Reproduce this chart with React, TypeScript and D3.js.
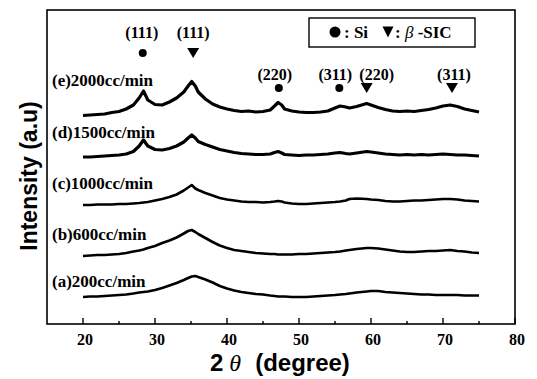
import React from "react";
import * as d3 from "d3";

const THETA = [20, 21, 22, 23, 24, 25, 26, 27, 27.8, 28.4, 29, 30, 31, 32, 33, 34, 34.6, 35.1, 35.6, 36, 37, 38, 39, 40, 41, 42, 43, 44, 45, 46, 46.6, 47.1, 47.6, 48, 49, 50, 51, 52, 53, 54, 55, 55.7, 56.5, 57, 58, 59.4, 60, 61, 62, 63, 64, 65, 66, 67, 68, 69, 70, 71, 72, 73, 74, 75];

const SERIES_A = [27, 27.5, 27.5, 28, 28.5, 29, 29.5, 30.5, 31.5, 32, 32.5, 34, 36, 38.5, 41, 44, 46, 47.5, 48, 47, 44.5, 41.5, 38, 35.5, 33.5, 32, 31, 30, 29.5, 28.5, 28, 27.5, 27.5, 27.5, 27, 27, 27, 27.5, 28, 28.5, 29, 29.5, 30, 30.5, 31.5, 32.5, 33, 33, 32, 31.5, 31, 30.5, 30, 29.5, 29.5, 29, 29, 29, 29, 28.5, 28.5, 28.5];
const SERIES_B = [68, 68.5, 69, 69, 69.5, 70, 71, 72.5, 73.5, 74.5, 76, 78, 81, 83.5, 86.5, 90.5, 93, 94, 92, 90, 86, 82, 78.5, 76, 74, 73, 72, 71, 70.5, 70, 70, 69.5, 69.5, 69.5, 69.5, 70, 70, 70.5, 71, 71.5, 72, 72.5, 73.5, 74, 75, 76, 76, 75.5, 74.5, 73.5, 72.5, 72, 72, 72.5, 73, 73, 73.5, 74, 73, 72.5, 71.5, 71];
const SERIES_C = [119, 119, 119.5, 119.5, 119.5, 120, 120, 120.5, 121, 121.5, 122, 123.5, 125, 127, 129.5, 133.5, 136.5, 139, 135.5, 134, 131, 128.5, 126, 124.5, 123.5, 122.5, 122, 122, 121.5, 122, 122.5, 123, 122.5, 121.5, 120.5, 120, 120, 120.5, 121, 121.5, 122, 122.5, 123.5, 125, 125.5, 125, 124.5, 124, 123, 122.5, 122.5, 123, 123.5, 123.5, 124, 124.5, 125, 125, 124.5, 123.5, 123, 122.5];
const SERIES_D = [167, 167, 167.5, 168, 168.5, 169, 170, 172.5, 178, 184, 178, 174.5, 174, 175.5, 178, 182, 186, 189, 186, 182.5, 179.5, 177, 174.5, 173, 171.5, 170.5, 170, 169.5, 169.5, 170, 171.5, 172.5, 171, 169.5, 169, 168.5, 169, 169, 169.5, 170, 171, 171.5, 170.5, 170, 171, 172.5, 172, 171, 170, 169.5, 169, 169.5, 169, 169.5, 169, 169.5, 170, 169.5, 169, 169, 168.5, 168];
const SERIES_E = [208.5, 209, 209.5, 210, 211.5, 212.5, 215, 219, 226, 233, 224, 219.5, 219, 222, 226, 232, 238, 242.5, 238, 232, 225, 220, 217, 215, 213.5, 212.5, 213, 212, 212.5, 214, 218, 221.5, 219, 215, 213, 212, 211.5, 211.5, 212, 213, 216, 218, 217, 216, 217.5, 220.5, 219, 216.5, 214.5, 213, 212.5, 213, 212.5, 213.5, 214.5, 216, 218, 219, 217.5, 215, 213.5, 212];

const SERIES = [SERIES_A, SERIES_B, SERIES_C, SERIES_D, SERIES_E];
const SERIES_LABELS = ["(a)200cc/min", "(b)600cc/min", "(c)1000cc/min", "(d)1500cc/min", "(e)2000cc/min"];

const X_TICKS = [20, 30, 40, 50, 60, 70, 80];
const X_MINOR = [25, 35, 45, 55, 65, 75];

const PEAK_THETA = [28.3, 35.3, 47.2, 55.6, 59.4, 71.25];
const PEAK_LABELS = ["(111)", "(111)", "(220)", "(311)", "(220)", "(311)"];
const PEAK_PHASE = ["Si", "SiC", "Si", "Si", "SiC", "SiC"];

const W = 537;
const H = 379;
const M = { left: 47, top: 10, right: 515, bottom: 324 };

const SANS = "'Liberation Sans', Arial, sans-serif";
const SERIF = "'Liberation Serif', 'Times New Roman', serif";

function Tri({ cx, cy, w, h }: { cx: number; cy: number; w: number; h: number }) {
  return <path d={`M${cx - w / 2},${cy - h / 2}L${cx + w / 2},${cy - h / 2}L${cx},${cy + h / 2}Z`} fill="#000" />;
}

export default function App() {
  const x = d3.scaleLinear().domain([15, 80]).range([M.left, M.right]);
  const y = d3.scaleLinear().domain([0, 314]).range([M.bottom, M.top]);
  const line = d3
    .line<number>()
    .x((_, i) => x(THETA[i]))
    .y((v) => y(v))
    .curve(d3.curveLinear);

  const labelBaselines = [287, 240, 189, 138, 86];
  const peakLabelDx = [-1, 0, -4, -4, 10, 2];

  return (
    <svg width={W} height={H} style={{ position: "absolute", left: 0, top: 0, background: "#fff" }}>
      <rect x={0} y={0} width={W} height={H} fill="#fff" />
      {/* frame */}
      <rect x={M.left} y={M.top} width={M.right - M.left} height={M.bottom - M.top} fill="none" stroke="#000" strokeWidth={1.6} />
      {/* ticks */}
      {X_TICKS.map((t) => (
        <line key={"t" + t} x1={x(t)} x2={x(t)} y1={M.bottom} y2={M.bottom - 6} stroke="#000" strokeWidth={1.4} />
      ))}
      {X_MINOR.map((t) => (
        <line key={"m" + t} x1={x(t)} x2={x(t)} y1={M.bottom} y2={M.bottom - 3} stroke="#000" strokeWidth={1.4} />
      ))}
      {X_TICKS.map((t) => (
        <text key={"l" + t} x={x(t) + 2} y={345} textAnchor="middle" fontFamily={SERIF} fontWeight="bold" fontSize={16}>
          {t}
        </text>
      ))}
      {/* curves */}
      {SERIES.map((s, i) => (
        <path key={"s" + i} d={line(s) || ""} fill="none" stroke="#000" strokeWidth={i >= 3 ? 3.2 : 2.6} strokeLinejoin="round" />
      ))}
      {SERIES_LABELS.map((l, i) => (
        <text key={"sl" + i} x={52} y={labelBaselines[i]} fontFamily={SERIF} fontWeight="bold" fontSize={17}>
          {l}
        </text>
      ))}
      {/* peak markers */}
      {PEAK_THETA.map((t, i) => {
        const top = i < 2;
        const my = top ? 53 : 88;
        const ly = top ? 38 : 80;
        return (
          <g key={"p" + i}>
            <text x={x(t) + peakLabelDx[i]} y={ly} textAnchor="middle" fontFamily={SERIF} fontWeight="bold" fontSize={16}>
              {PEAK_LABELS[i]}
            </text>
            {PEAK_PHASE[i] === "Si" ? (
              <circle cx={x(t)} cy={my} r={4} fill="#000" />
            ) : (
              <Tri cx={x(t)} cy={my} w={12} h={10} />
            )}
          </g>
        );
      })}
      {/* legend */}
      <rect x={309} y={18} width={166} height={29} fill="#fff" stroke="#000" strokeWidth={1.4} />
      <circle cx={335} cy={32} r={5.5} fill="#000" />
      <text x={344} y={38} fontFamily={SERIF} fontWeight="bold" fontSize={17}>
        : Si
      </text>
      <Tri cx={388} cy={32} w={11} h={11} />
      <text x={395} y={38} fontFamily={SERIF} fontWeight="bold" fontSize={17}>
        :{" "}
        <tspan fontStyle="italic" fontWeight="normal">β</tspan> -SIC
      </text>
      {/* axis titles */}
      <text x={210} y={371} fontFamily={SANS} fontWeight="bold" fontSize={24}>
        2
        <tspan fontFamily={SERIF} fontStyle="italic" fontWeight="normal" dx={6}>θ</tspan>
        <tspan dx={14}>(degree)</tspan>
      </text>
      <text
        transform={`translate(37,176) rotate(-90)`}
        textAnchor="middle"
        fontFamily={SANS}
        fontWeight="bold"
        fontSize={23}
      >
        Intensity (a.u)
      </text>
    </svg>
  );
}
